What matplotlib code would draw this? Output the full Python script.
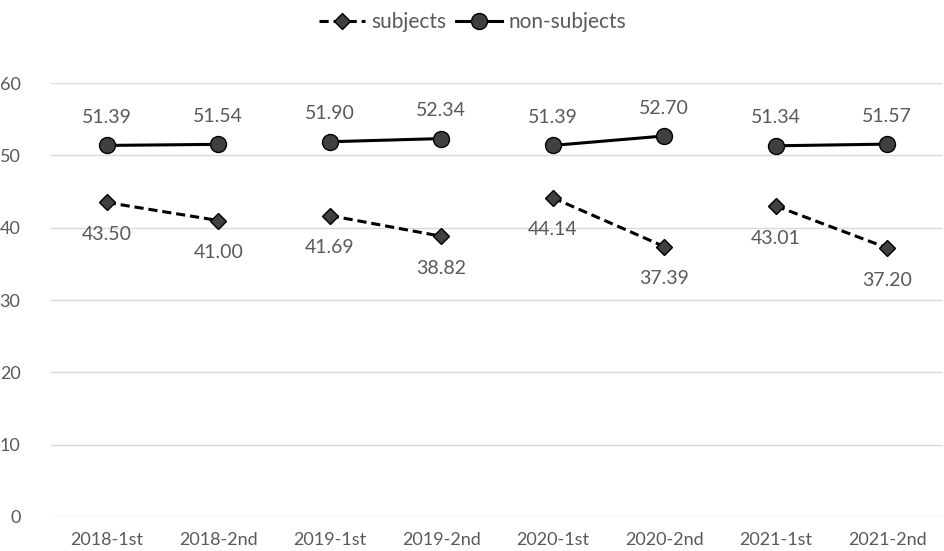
import matplotlib.pyplot as plt
import numpy as np

plt.rcParams['font.family'] = ['Lato', 'DejaVu Sans']

periods = ['2018-1st', '2018-2nd', '2019-1st', '2019-2nd',
           '2020-1st', '2020-2nd', '2021-1st', '2021-2nd']
subjects = [43.50, 41.00, 41.69, 38.82, 44.14, 37.39, 43.01, 37.20]
non_subjects = [51.39, 51.54, 51.90, 52.34, 51.39, 52.70, 51.34, 51.57]

text_col = '#595959'
marker_col = '#404040'

fig = plt.figure(figsize=(9.45, 5.51), dpi=100)
ax = fig.add_axes([0.054, 0.062, 0.944, 0.787])

x = np.arange(len(periods))

# each year is drawn as its own segment (1st half -> 2nd half)
for i in range(0, len(periods), 2):
    seg = slice(i, i + 2)
    ax.plot(x[seg], subjects[seg], color='black', lw=2.2, ls=(0, (3, 1.6)),
            marker='D', ms=8.5, mfc=marker_col, mec='black', mew=1,
            label='subjects' if i == 0 else None, zorder=3)
    ax.plot(x[seg], non_subjects[seg], color='black', lw=2.2, ls='-',
            marker='o', ms=11.5, mfc=marker_col, mec='black', mew=1,
            label='non-subjects' if i == 0 else None, zorder=3)

for xi, v in zip(x, non_subjects):
    ax.annotate(f'{v:.2f}', (xi, v), xytext=(0, 14), textcoords='offset points',
                ha='center', va='bottom', fontsize=14, color=text_col)
for xi, v in zip(x, subjects):
    ax.annotate(f'{v:.2f}', (xi, v), xytext=(0, -17), textcoords='offset points',
                ha='center', va='top', fontsize=14, color=text_col)

ax.set_xlim(-0.5, len(periods) - 0.5)
ax.set_ylim(0, 60)
ax.set_yticks(range(0, 61, 10))
ax.set_xticks(x)
ax.set_xticklabels(periods)
ax.tick_params(axis='both', length=0, labelsize=13, labelcolor=text_col)
ax.tick_params(axis='y', pad=22)
ax.tick_params(axis='x', pad=11)
ax.grid(axis='y', color='#d9d9d9', lw=1)
ax.set_axisbelow(True)
for s in ax.spines.values():
    s.set_visible(False)

leg = fig.legend(loc='upper center', bbox_to_anchor=(0.5, 1.012), ncol=2,
                 frameon=False, fontsize=15, handlelength=2.2,
                 columnspacing=0.5, handletextpad=0.3, labelcolor=text_col)

fig.savefig('out.png', dpi=100)
